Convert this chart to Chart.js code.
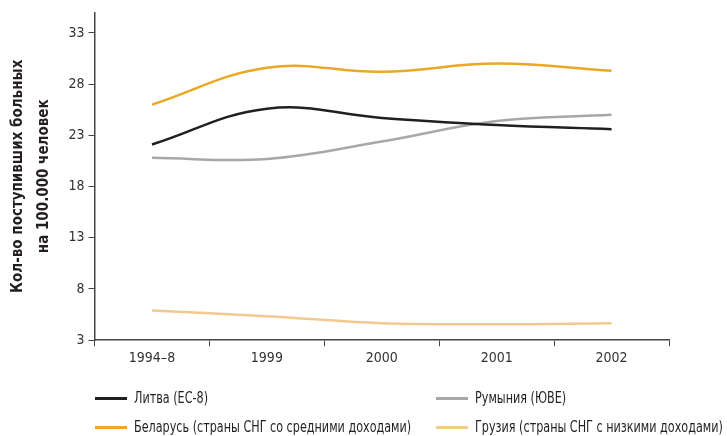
<!DOCTYPE html>
<html>
<head>
<meta charset="utf-8">
<script src="https://cdn.jsdelivr.net/npm/chart.js@4/dist/chart.umd.min.js"></script>
<style>
  body { margin: 0; background: #fff; }
  #wrap { position: relative; width: 727px; height: 436px; }
  #legend {
    position: absolute; left: 95px; top: 388px;
    display: grid; grid-template-columns: 341px 290px; row-gap: 9px;
    font-family: 'DejaVu Sans Condensed', 'Liberation Sans Narrow', sans-serif;
    font-size: 15px; color: #231f20;
  }
  #legend div { display: flex; align-items: center; height: 20px; white-space: nowrap; }
  #legend span.sw { display: inline-block; width: 32px; height: 3px; margin-right: 7px; flex: none; }
  #legend span.tx { display: inline-block; transform: scaleX(0.83); transform-origin: left center; }
</style>
</head>
<body>
<div id="wrap">
  <canvas id="chart" width="727" height="436"></canvas>
  <div id="legend"></div>
</div>
<script>
const categories = ['1994–8', '1999', '2000', '2001', '2002'];
const yTicks = [3, 8, 13, 18, 23, 28, 33];
const lithuania = [22.1, 25.6, 24.7, 24.0, 23.6];
const romania = [20.8, 20.7, 22.4, 24.4, 25.0];
const belarus = [26.0, 29.6, 29.2, 30.0, 29.3];
const georgia = [5.9, 5.35, 4.66, 4.56, 4.66];

const seriesNames = ['Литва (ЕС-8)', 'Румыния (ЮВЕ)', 'Беларусь (страны СНГ со средними доходами)', 'Грузия (страны СНГ с низкими доходами)'];
const seriesColors = ['#231f20', '#a8a8aa', '#eaa824', '#f2c98f'];
const seriesData = [lithuania, romania, belarus, georgia];

const fontFamily = "'DejaVu Sans Condensed', 'Liberation Sans Narrow', sans-serif";

const datasets = seriesData.map((d, i) => ({
  label: seriesNames[i],
  data: d,
  borderColor: seriesColors[i],
  borderWidth: 2.5,
  pointRadius: 0,
  tension: 0.4,
  fill: false
}));

const legend = document.getElementById('legend');
seriesNames.forEach((name, i) => {
  const item = document.createElement('div');
  item.innerHTML = `<span class="sw" style="background:${seriesColors[i]}"></span><span class="tx">${name}</span>`;
  legend.appendChild(item);
});

new Chart(document.getElementById('chart'), {
  type: 'line',
  data: { labels: categories, datasets: datasets },
  options: {
    responsive: false,
    animation: false,
    layout: { padding: { top: 10, right: 58, bottom: 65, left: 5 } },
    plugins: { legend: { display: false }, tooltip: { enabled: false } },
    scales: {
      x: {
        offset: true,
        grid: { offset: true, drawOnChartArea: false, drawTicks: true, tickLength: 6, color: '#444' },
        border: { display: true, color: '#444', width: 1.5 },
        ticks: { color: '#333', font: { family: fontFamily, size: 14 }, padding: 4 }
      },
      y: {
        min: 3, max: 35,
        afterBuildTicks: scale => { scale.ticks = yTicks.map(v => ({ value: v })); },
        grid: { drawOnChartArea: false, drawTicks: true, tickLength: 6, color: '#444' },
        border: { display: true, color: '#444', width: 1.5 },
        ticks: { color: '#333', font: { family: fontFamily, size: 14 }, padding: 4 },
        title: {
          display: true,
          text: ['Кол-во поступивших больных', 'на 100.000 человек'],
          color: '#231f20',
          font: { family: fontFamily, size: 15, weight: 'bold', lineHeight: 1.75 },
          padding: { top: 0, bottom: 7 }
        }
      }
    }
  }
});
</script>
</body>
</html>
